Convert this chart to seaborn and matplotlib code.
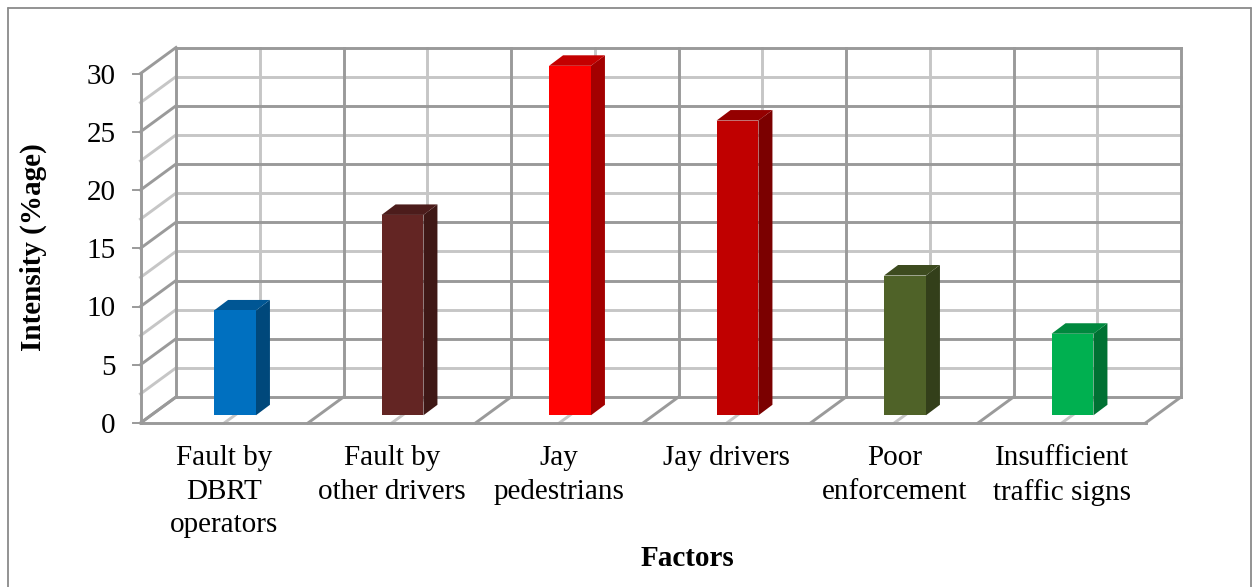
import pandas as pd
import matplotlib
matplotlib.use("Agg")
import matplotlib.pyplot as plt
import seaborn as sns
from matplotlib.lines import Line2D
from matplotlib.patches import Polygon
from matplotlib.transforms import Affine2D, IdentityTransform

# -----------------------------
# 1. Data
# -----------------------------
factors = ["Fault by\nDBRT\noperators", "Fault by\nother drivers", "Jay\npedestrians",
           "Jay drivers", "Poor\nenforcement", "Insufficient\ntraffic signs"]
intensity = [9, 17.2, 30, 25.3, 12, 7]
bar_colors = ["#0070C0", "#632523", "#FF0000", "#C00000", "#4F6228", "#00B050"]
y_ticks = [0, 5, 10, 15, 20, 25, 30]
y_grid = [0, 2.5, 5, 7.5, 10, 12.5, 15, 17.5, 20, 22.5, 25, 27.5, 30]

df = pd.DataFrame({"factor": factors, "intensity": intensity})

# -----------------------------
# 2. Figure setup
# -----------------------------
W, H = 1252, 587
sns.set_theme(style="white")
plt.rcParams["font.family"] = ["Liberation Serif", "DejaVu Serif"]

DARK = "#9a9a9a"
LIGHT = "#c6c6c6"
LW = 2.1

fig = plt.figure(figsize=(W / 100, H / 100), dpi=100, facecolor="white")
ax = fig.add_axes([151.25 / W, (H - 415.3) / H, 1005 / W, 349.5 / H])
ax.patch.set_visible(False)

sns.barplot(data=df, x="factor", y="intensity", hue="factor", palette=bar_colors,
            legend=False, width=0.25, saturation=1, linewidth=0, ax=ax)
ax.set_xlim(-0.5, 5.5)
ax.set_ylim(0, 30)
ax.set_yticks(y_ticks)
sns.despine(ax=ax, left=True, bottom=True)

# pixel shifts of the front edge and back wall, relative to the bar plane
FRONT = (-10.75, -7.7)
BACK = (24.75, 18.3)
DEPTH = (14, 10.5)
px = IdentityTransform()


def to_px(x, y, shift):
    X, Y = ax.transData.transform((x, y))
    return X + shift[0], Y + shift[1]


def line(p0, p1, color, z=0.5, lw=LW):
    ax.add_line(Line2D([p0[0], p1[0]], [p0[1], p1[1]], color=color, lw=lw,
                       transform=px, clip_on=False, zorder=z, solid_capstyle="projecting"))


# -----------------------------
# 3. Fake 3D walls
# -----------------------------
for v in y_grid:
    c = DARK if v % 5 == 0 else LIGHT
    line(to_px(-0.5, v, BACK), to_px(5.5, v, BACK), c)
    line(to_px(-0.5, v, FRONT), to_px(-0.5, v, BACK), c)

for i in range(7):
    x = i - 0.5
    line(to_px(x, 0, BACK), to_px(x, 30, BACK), DARK)
    line(to_px(x, 0, FRONT), to_px(x, 0, BACK), DARK)
for i in range(6):
    line(to_px(i, 0, BACK), to_px(i, 30, BACK), LIGHT, z=0.4)
    line(to_px(i, 0, FRONT), to_px(i, 0, BACK), LIGHT, z=0.4)

line(to_px(-0.5, 0, FRONT), to_px(5.5, 0, FRONT), DARK, z=0.6)
line(to_px(-0.5, 0, FRONT), to_px(-0.5, 30, FRONT), DARK, z=0.6)
for v in y_ticks:
    p = to_px(-0.5, v, FRONT)
    line((p[0] - 8, p[1]), p, DARK, z=0.6, lw=1.4)

# -----------------------------
# 4. Side and top faces of the bars
# -----------------------------
for bar in ax.patches:
    if bar.get_height() <= 0:
        continue
    x0, w, h = bar.get_x(), bar.get_width(), bar.get_height()
    r, g, b, _ = bar.get_facecolor()
    bar.set_zorder(3)
    bar.set_edgecolor("none")
    none = (0, 0)
    side = [to_px(x0 + w, 0, none), to_px(x0 + w, 0, DEPTH), to_px(x0 + w, h, DEPTH), to_px(x0 + w, h, none)]
    top = [to_px(x0, h, none), to_px(x0 + w, h, none), to_px(x0 + w, h, DEPTH), to_px(x0, h, DEPTH)]
    ax.add_patch(Polygon(side, closed=True, transform=px, clip_on=False, lw=0, zorder=2.5,
                         facecolor=(r * 0.64, g * 0.64, b * 0.64)))
    ax.add_patch(Polygon(top, closed=True, transform=px, clip_on=False, lw=0, zorder=2.5,
                         facecolor=(r * 0.77, g * 0.77, b * 0.77)))

# -----------------------------
# 5. Text
# -----------------------------
ax.tick_params(axis="both", length=0, labelsize=21, labelcolor="black")
ax.tick_params(axis="x", pad=16)
ax.tick_params(axis="y", pad=18)
for label in ax.get_xticklabels():
    label.set_transform(label.get_transform() + Affine2D().translate(FRONT[0], FRONT[1]))
    label.set_linespacing(1.37)
for label in ax.get_yticklabels():
    label.set_transform(label.get_transform() + Affine2D().translate(FRONT[0], FRONT[1]))

ax.set_xlabel("Factors", fontsize=21, fontweight="bold", color="black", va="center")
ax.set_ylabel("Intensity (%age)", fontsize=21, fontweight="bold", color="black", va="center")
ax.xaxis.set_label_coords(687, H - 559, transform=px)
ax.yaxis.set_label_coords(33, H - 247, transform=px)

# outer chart border, open at the bottom of the image
border = dict(color="#8a8a8a", lw=1.3, transform=px)
fig.add_artist(Line2D([8, 8], [0, H - 8], **border))
fig.add_artist(Line2D([8, 1251], [H - 8, H - 8], **border))
fig.add_artist(Line2D([1251, 1251], [0, H - 8], **border))

plt.savefig("out.png", dpi=100, facecolor="white")
